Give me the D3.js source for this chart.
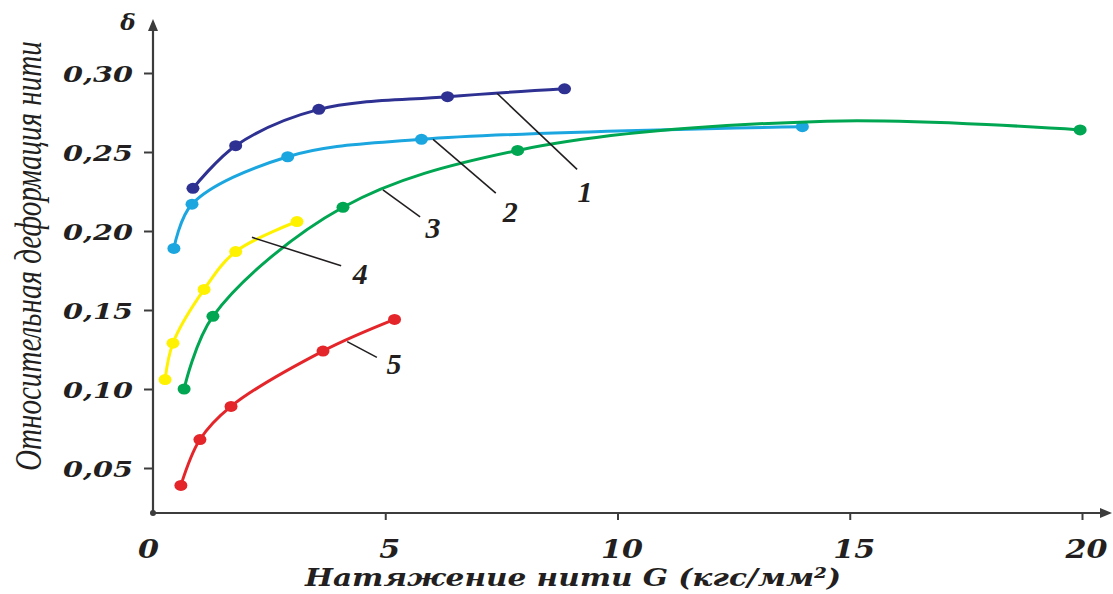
<!DOCTYPE html>
<html>
<head>
<meta charset="utf-8">
<script src="https://cdn.jsdelivr.net/npm/d3@7"></script>
<style>
body { margin:0; background:#fff; }
</style>
</head>
<body>
<div id="grafBlok"></div>
<script>
var width = 1113
var height = 594

// tension G (kgf/mm2) and relative deformation for curves 1..5
var names = ["1","2","3","4","5"]
var colors = ["#2e3192","#1ba6e0","#00a651","#fff200","#e4262b"]
var g1 = [0.86, 1.78, 3.57, 6.34, 8.86]
var d1 = [0.227, 0.254, 0.277, 0.285, 0.290]
var g2 = [0.45, 0.84, 2.90, 5.78, 13.98]
var d2 = [0.189, 0.217, 0.247, 0.258, 0.266]
// curve 3 passes its top at G=14.5 (no marker there in the picture)
var g3 = [0.67, 1.29, 4.09, 7.85, 14.5, 19.96]
var d3v = [0.100, 0.146, 0.215, 0.251, 0.2695, 0.264]
var m3 = [1, 1, 1, 1, 0, 1]
var g4 = [0.26, 0.43, 1.10, 1.78, 3.10]
var d4 = [0.106, 0.129, 0.163, 0.187, 0.206]
var g5 = [0.60, 1.01, 1.68, 3.66, 5.20]
var d5 = [0.039, 0.068, 0.089, 0.124, 0.144]

var xTicks = [0,5,10,15,20]
var yTicks = [0.05,0.10,0.15,0.20,0.25,0.30]

// callouts: point on curve -> end of leader -> number
var calloutFrom = [[7.41,0.287],[6.03,0.258],[4.95,0.226],[2.13,0.196],[4.18,0.130]]
var calloutTo = [[9.13,0.239],[7.38,0.224],[5.75,0.209],[4.05,0.178],[4.82,0.120]]
var calloutText = [[9.30,0.225],[7.69,0.212],[6.03,0.202],[4.46,0.173],[5.19,0.116]]

var gs = [g1,g2,g3,g4,g5]
var ds = [d1,d2,d3v,d4,d5]
var marks = [null,null,m3,null,null]
var series = names.map(function(n,i){
    return {name:n, color:colors[i], pts:gs[i].map(function(g,j){
        return [g, ds[i][j], marks[i] ? marks[i][j] : 1]
    })}
})

draw()

function draw(){
    var svg = d3.select("#grafBlok").append("svg")
        .attr("width",width)
        .attr("height",height)
        .style("background","#fff")

    var x = d3.scaleLinear().domain([0,20]).range([153,1082])
    var y = d3.scaleLinear().domain([0.05,0.30]).range([468,73])
    var yBase = y.invert(513)
    var axisCol = "#3c3c3c"
    var serifB = "'DejaVu Serif', serif"

    // x axis
    var xa = svg.append("g")
        .attr("transform","translate(0," + y(yBase) + ")")
        .call(d3.axisBottom(x).tickValues(xTicks).tickSize(7).tickFormat(d3.format("d")))
    xa.select(".domain").remove()
    xa.selectAll("line").attr("stroke",axisCol).attr("stroke-width",2)
        .filter(function(d){ return d == 0 }).remove()
    xa.selectAll("text")
        .attr("y",27).attr("dx",function(d){ return d == 0 ? -5 : 4 })
        .attr("textLength",function(d){ return String(d).length * 21 })
        .attr("lengthAdjust","spacingAndGlyphs")
        .style("font-family",serifB).style("font-weight","bold").style("font-style","italic")
        .style("font-size","26px").attr("fill","#231f20")

    // y axis
    var ya = svg.append("g")
        .attr("transform","translate(" + x(0) + ",0)")
        .call(d3.axisLeft(y).tickValues(yTicks).tickSize(9).tickFormat(function(d){ return d3.format(".2f")(d).replace(".",",") }))
    ya.select(".domain").remove()
    ya.selectAll("line").attr("stroke",axisCol).attr("stroke-width",2)
    ya.selectAll("text")
        .attr("x",-20).attr("dy","0.36em")
        .attr("textLength",70).attr("lengthAdjust","spacingAndGlyphs")
        .style("font-family",serifB).style("font-weight","bold").style("font-style","italic")
        .style("font-size","23px").attr("fill","#231f20")

    // axis lines with arrows
    svg.append("line").attr("x1",x(0)).attr("y1",y(yBase)).attr("x2",1104).attr("y2",y(yBase))
        .attr("stroke",axisCol).attr("stroke-width",2.2)
    svg.append("path").attr("d","M1112," + y(yBase) + " l-12,-5 l0,10 z").attr("fill",axisCol)
    svg.append("line").attr("x1",x(0)).attr("y1",y(yBase)).attr("x2",x(0)).attr("y2",28)
        .attr("stroke",axisCol).attr("stroke-width",2.2)
    svg.append("path").attr("d","M" + x(0) + ",19 l-5,12 l10,0 z").attr("fill",axisCol)
    svg.append("circle").attr("cx",x(0)).attr("cy",y(yBase)).attr("r",3).attr("fill",axisCol)

    svg.append("text").text("δ")
        .attr("x",128).attr("y",30).attr("text-anchor","middle")
        .style("font-family",serifB).style("font-weight","bold").style("font-style","italic")
        .style("font-size","23px").attr("fill","#231f20")

    // axis titles
    svg.append("text").text("Натяжение нити G (кгс/мм²)")
        .attr("x",305).attr("y",586)
        .attr("textLength",536).attr("lengthAdjust","spacingAndGlyphs")
        .style("font-family",serifB).style("font-weight","bold").style("font-style","italic")
        .style("font-size","25px").attr("fill","#231f20")

    // narrow italic title: squeeze with a transform so its box stays true
    var yt = svg.append("text").text("Относительная деформация нити")
        .style("font-family","'Liberation Serif', serif").style("font-style","italic")
        .style("font-size","38px").attr("fill","#231f20")
    var k = 430 / yt.node().getComputedTextLength()
    yt.attr("transform","translate(41,471) rotate(-90) scale(" + k + ",1)")

    // curves
    var line = d3.line()
        .x(function(d){ return x(d[0]) })
        .y(function(d){ return y(d[1]) })
        .curve(d3.curveCatmullRom.alpha(0.5))

    var grp = svg.selectAll(".curve")
        .data(series)
        .enter()
        .append("g")
        .attr("class","curve")

    grp.append("path")
        .attr("d",function(d){ return line(d.pts) })
        .attr("fill","none")
        .attr("stroke",function(d){ return d.color })
        .attr("stroke-width",3)

    grp.selectAll("ellipse")
        .data(function(d){ return d.pts.filter(function(p){ return p[2] }).map(function(p){ return {p:p, c:d.color} }) })
        .enter()
        .append("ellipse")
        .attr("cx",function(d){ return x(d.p[0]) })
        .attr("cy",function(d){ return y(d.p[1]) })
        .attr("rx",6.5)
        .attr("ry",5.5)
        .attr("fill",function(d){ return d.c })

    // callouts
    names.forEach(function(n,i){
        svg.append("line")
            .attr("x1",x(calloutFrom[i][0])).attr("y1",y(calloutFrom[i][1]))
            .attr("x2",x(calloutTo[i][0])).attr("y2",y(calloutTo[i][1]))
            .attr("stroke","#231f20").attr("stroke-width",1.6)
        svg.append("text").text(n)
            .attr("x",x(calloutText[i][0])).attr("y",y(calloutText[i][1]) + 10)
            .attr("text-anchor","middle")
            .style("font-family","'Liberation Serif', serif").style("font-weight","bold").style("font-style","italic")
            .style("font-size","30px").attr("fill","#231f20")
    })
}
</script>
</body>
</html>
